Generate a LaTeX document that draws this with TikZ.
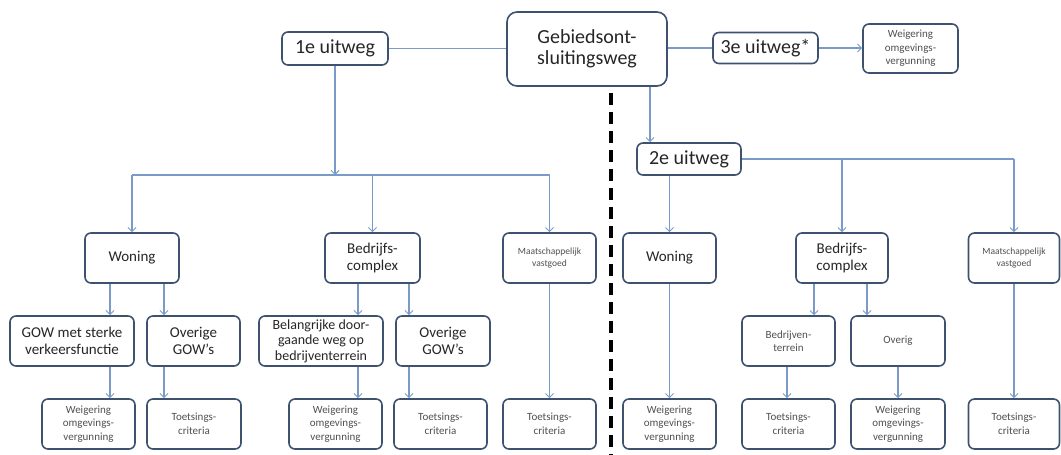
\documentclass[tikz,border=0pt]{standalone}
\usepackage{fontspec}
\setmainfont{Carlito}
\usetikzlibrary{arrows.meta}
\definecolor{boxc}{RGB}{62,82,112}
\definecolor{linec}{RGB}{122,154,200}
\definecolor{txt}{RGB}{38,38,38}
\definecolor{txtl}{RGB}{80,80,80}
\begin{document}
\begin{tikzpicture}[x=1pt,y=-1pt,
  box/.style={draw=boxc, line width=1.6pt, rounded corners=6pt, fill=white, text=txt, align=center, inner sep=1pt, minimum height=50pt},
  big/.style={font=\fontsize{20}{21}\selectfont},
  mid/.style={font=\fontsize{15}{17}\selectfont},
  bel/.style={font=\fontsize{14}{15.5}\selectfont},
  sml/.style={font=\fontsize{11}{13.5}\selectfont, text=txtl},
  tny/.style={font=\fontsize{9.5}{12}\selectfont, text=txtl},
  conn/.style={draw=linec, line width=1.2pt},
  arr/.style={conn, -{Straight Barb[length=4pt,width=8pt,line width=1pt]}},
  dashline/.style={draw=black, line width=3.5pt, dash pattern=on 12pt off 7pt}]
\useasboundingbox (0,0) rectangle (1061,455);
% top
\node[box, big, rounded corners=10pt, minimum width=160pt, minimum height=74pt] (geb) at (587,49) {Gebiedsont-\\sluitingsweg};
\node[box, big, minimum width=106pt, minimum height=33pt] (u1) at (335,48.5) {1e uitweg};
\node[box, big, minimum width=105pt, minimum height=31pt] (u3) at (765.5,48) {3e uitweg*};
\node[box, sml, minimum width=95pt, minimum height=49pt] (w3) at (910.5,48.5) {Weigering\\omgevings-\\vergunning};
\node[box, big, minimum width=104pt, minimum height=32pt] (u2) at (689,159) {2e uitweg};
% left top row
\node[box, mid, minimum width=94pt] (wonL) at (132,258) {Woning};
\node[box, mid, minimum width=95pt] (bedL) at (372.5,258) {Bedrijfs-\\complex};
\node[box, tny, minimum width=93pt] (maaL) at (549.5,258) {Maatschappelijk\\vastgoed};
% right top row
\node[box, mid, minimum width=93pt] (wonR) at (669.5,258) {Woning};
\node[box, mid, minimum width=92pt] (bedR) at (842,258) {Bedrijfs-\\complex};
\node[box, tny, minimum width=91pt] (maaR) at (1014,258) {Maatschappelijk\\vastgoed};
% middle row
\node[box, mid, minimum width=124pt] (gow) at (72,341) {GOW met sterke\\verkeersfunctie};
\node[box, mid, minimum width=93pt] (ovL1) at (193.5,341) {Overige\\GOW’s};
\node[box, bel, minimum width=124pt] (belg) at (321,341) {Belangrijke door-\\gaande weg op\\bedrijventerrein};
\node[box, mid, minimum width=94pt] (ovL2) at (443,341) {Overige\\GOW’s};
\node[box, sml, minimum width=93pt] (bter) at (788.5,341) {Bedrijven-\\terrein};
\node[box, sml, minimum width=94pt] (ovg) at (898,341) {Overig};
% bottom row
\node[box, sml, minimum width=93pt] (weiL1) at (88.5,424) {Weigering\\omgevings-\\vergunning};
\node[box, sml, minimum width=94pt] (toeL1) at (194,424) {Toetsings-\\criteria};
\node[box, sml, minimum width=93pt] (weiL2) at (335.5,424) {Weigering\\omgevings-\\vergunning};
\node[box, sml, minimum width=93pt] (toeL2) at (440.5,424) {Toetsings-\\criteria};
\node[box, sml, minimum width=93pt] (toeL3) at (549.5,424) {Toetsings-\\criteria};
\node[box, sml, minimum width=93pt] (weiR1) at (669.5,424) {Weigering\\omgevings-\\vergunning};
\node[box, sml, minimum width=93pt] (toeR2) at (788.5,424) {Toetsings-\\criteria};
\node[box, sml, minimum width=94pt] (weiR3) at (898,424) {Weigering\\omgevings-\\vergunning};
\node[box, sml, minimum width=91pt] (toeR4) at (1014,424) {Toetsings-\\criteria};
% helper coordinates
\coordinate (barL) at (0,175);
\coordinate (x650) at (650,0);
\coordinate (xa) at (110,0);
\coordinate (xb) at (164,0);
\coordinate (xc) at (358,0);
\coordinate (xd) at (409,0);
\coordinate (xe) at (814,0);
\coordinate (xf) at (867,0);
\coordinate (xg) at (787,0);
\coordinate (dtop) at (611,93);
\coordinate (dbot) at (611,456);
% dashed divider
\draw[dashline] (dtop) -- (dbot);
% top connectors
\draw[conn] (u1.east) -- (geb.west |- u1.east);
\draw[conn] (geb.east |- u3.west) -- (u3.west);
\draw[arr] (u3.east) -- (w3.west |- u3.east);
\draw[arr] (geb.south -| x650) -- (u2.north -| x650);
% left tree
\draw[arr] (u1.south) -- (u1.south |- barL);
\draw[conn] (wonL.north |- barL) -- (maaL.north |- barL);
\draw[arr] (wonL.north |- barL) -- (wonL.north);
\draw[arr] (bedL.north |- barL) -- (bedL.north);
\draw[arr] (maaL.north |- barL) -- (maaL.north);
\draw[arr] (wonL.south -| xa) -- (gow.north -| xa);
\draw[arr] (wonL.south -| xb) -- (ovL1.north -| xb);
\draw[arr] (gow.south -| xa) -- (weiL1.north -| xa);
\draw[arr] (ovL1.south -| xb) -- (toeL1.north -| xb);
\draw[arr] (bedL.south -| xc) -- (belg.north -| xc);
\draw[arr] (bedL.south -| xd) -- (ovL2.north -| xd);
\draw[arr] (belg.south -| xc) -- (weiL2.north -| xc);
\draw[arr] (ovL2.south -| xd) -- (toeL2.north -| xd);
\draw[arr] (maaL.south) -- (toeL3.north);
% right tree
\draw[conn] (u2.east) -- (maaR.north |- u2.east);
\draw[arr] (bedR.north |- u2.east) -- (bedR.north);
\draw[arr] (maaR.north |- u2.east) -- (maaR.north);
\draw[arr] (wonR.north |- u2.south) -- (wonR.north);
\draw[arr] (wonR.south) -- (weiR1.north);
\draw[arr] (bedR.south -| xe) -- (bter.north -| xe);
\draw[arr] (bedR.south -| xf) -- (ovg.north -| xf);
\draw[arr] (bter.south -| xg) -- (toeR2.north -| xg);
\draw[arr] (ovg.south) -- (weiR3.north);
\draw[arr] (maaR.south) -- (toeR4.north);
\end{tikzpicture}
\end{document}
